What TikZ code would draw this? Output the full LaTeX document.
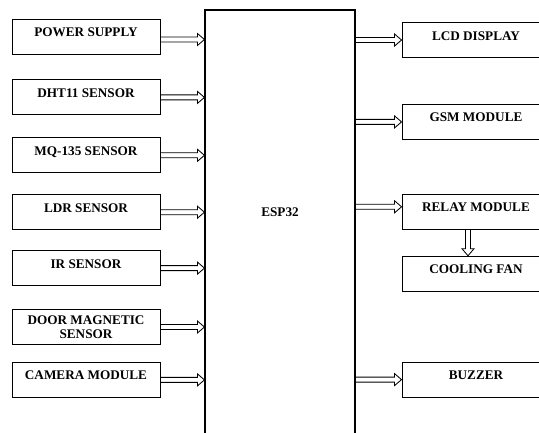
\documentclass[tikz,border=0pt]{standalone}
\usepackage{fontspec}
\setmainfont{Liberation Serif}
\usetikzlibrary{positioning,calc}

\begin{document}
\begin{tikzpicture}[x=1pt,y=-1pt,node distance=22pt,
    every node/.style={font=\bfseries\fontsize{13.2}{14}\selectfont},
    blk/.style={draw=black,line width=0.9pt,minimum width=148pt,minimum height=35pt,inner sep=2pt,text height=9pt,text depth=9pt},
    blktwo/.style={draw=black,line width=0.9pt,minimum width=148pt,minimum height=35pt,inner sep=2pt,align=center},
    dbl/.style={draw=black,line width=0.85pt,line join=miter,to path={
      ($(\tikztostart)!2.5pt!90:(\tikztotarget)$)
      -- ($(\tikztotarget)!7pt!(\tikztostart)!2.5pt!-90:(\tikztostart)$)
      -- ($(\tikztotarget)!7pt!(\tikztostart)!6pt!-90:(\tikztostart)$)
      -- (\tikztotarget)
      -- ($(\tikztotarget)!7pt!(\tikztostart)!6pt!90:(\tikztostart)$)
      -- ($(\tikztotarget)!7pt!(\tikztostart)!2.5pt!90:(\tikztostart)$)
      -- ($(\tikztostart)!2.5pt!-90:(\tikztotarget)$)}}]
      \useasboundingbox (0,0) rectangle (539,432);
      \clip (0,0) rectangle (539,432);
      % ESP32
      \node[draw=black,line width=1.1pt,minimum width=150pt,minimum height=440pt](esp) at (280,230) {};
      \node(esptext) at (280,212) {ESP32};
      % inputs
      \node[blk](power) at (86,36.5) {POWER SUPPLY};
      \node[blk,below=25pt of power](dht){DHT11 SENSOR};
      \node[blk,below=of dht](mq){MQ-135 SENSOR};
      \node[blk,below=21pt of mq](ldr){LDR SENSOR};
      \node[blk,below=20pt of ldr](ir){IR SENSOR};
      \node[blktwo,below=23pt of ir](door){DOOR MAGNETIC\\SENSOR};
      \node[blk,below=17pt of door](camera){CAMERA MODULE};
      % outputs
      \node[blk](lcd) at (476,40) {LCD DISPLAY};
      \node[blk,below=46pt of lcd](gsm){GSM MODULE};
      \node[blk,below=54pt of gsm](relay){RELAY MODULE};
      \node[blk,below=26pt of relay](fan){COOLING FAN};
      \node[blk,below=70pt of fan](buzzer){BUZZER};
      % Arrows
      \draw[dbl] ([yshift=-3pt]power.east) to ([yshift=-3pt]power.east -| esp.west);
      \draw[dbl] (dht.east) to (dht.east -| esp.west);
      \draw[dbl] (mq.east) to (mq.east -| esp.west);
      \draw[dbl] (ldr.east) to (ldr.east -| esp.west);
      \draw[dbl] (ir.east) to (ir.east -| esp.west);
      \draw[dbl] (door.east) to (door.east -| esp.west);
      \draw[dbl] (camera.east) to (camera.east -| esp.west);
      \draw[dbl] (lcd.west -| esp.east) to (lcd.west);
      \draw[dbl] (gsm.west -| esp.east) to (gsm.west);
      \draw[dbl] ([yshift=5pt]relay.west -| esp.east) to ([yshift=5pt]relay.west);
      \draw[dbl] ([xshift=-8pt]relay.south) to ([xshift=-8pt]fan.north);
      \draw[dbl] (buzzer.west -| esp.east) to (buzzer.west);
\end{tikzpicture}
\end{document}
